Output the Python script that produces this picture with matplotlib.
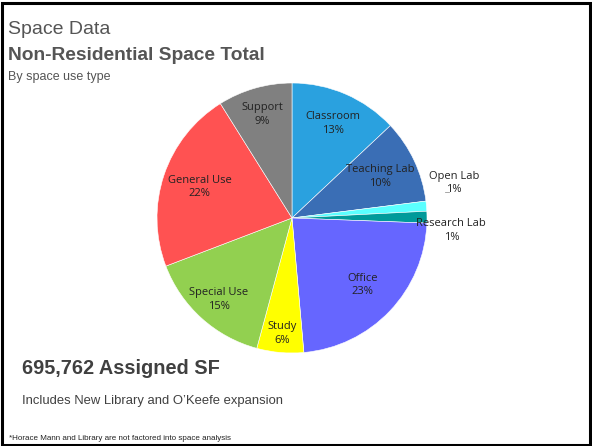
import matplotlib.pyplot as plt
import numpy as np
from matplotlib.patches import Rectangle

# data (share of assigned SF, clockwise from 12 o'clock)
categories = ["Classroom", "Teaching Lab", "Open Lab", "Research Lab", "Office",
              "Study", "Special Use", "General Use", "Support"]
shares = [13.0, 10.0, 1.2, 1.4, 23.0, 5.6, 15.0, 21.9, 8.9]
colors = ["#2AA1DF", "#3A6EB5", "#5BFFFF", "#009A9A", "#6666FF",
          "#FFFF00", "#92D050", "#FF5252", "#808080"]
label_r = [0.76, 0.72, None, None, 0.72, 0.86, 0.81, 0.72, 0.80]

total_sf = "695,762 Assigned SF"

W, H = 592, 446
fig = plt.figure(figsize=(W / 100, H / 100), dpi=100)

narrow = ["Liberation Sans Narrow", "Liberation Sans", "DejaVu Sans"]
txt = "#555555"

# =========================
# PIE
# =========================
cx, cy, rad = 292, 218, 135
ax = fig.add_axes([(cx - rad) / W, (H - cy - rad) / H, 2 * rad / W, 2 * rad / H])
wedges, _ = ax.pie(shares, colors=colors, startangle=90, counterclock=False,
                   radius=1.0, wedgeprops=dict(edgecolor="white", linewidth=0.4))
ax.set_xlim(-1, 1)
ax.set_ylim(-1, 1)
ax.axis("off")

pct = [s / sum(shares) * 100 for s in shares]
for w, name, p, r in zip(wedges, categories, pct, label_r):
    if r is None:
        continue
    ang = np.deg2rad((w.theta1 + w.theta2) / 2)
    ax.text(r * np.cos(ang), r * np.sin(ang), f"{name}\n{p:.0f}%",
            ha="center", va="center", fontsize=8, family="Open Sans",
            color="#222222", linespacing=1.35)

# small slices labelled outside
ax.text(1.20, 0.26, f"Open Lab\n{pct[2]:.0f}%", ha="center", va="center",
        fontsize=8, family="Open Sans", color="#222222", linespacing=1.35,
        clip_on=False)
ax.plot([1.13, 1.16], [0.195, 0.195], color="#999999", lw=0.6, clip_on=False)
ax.text(1.18, -0.09, f"Research Lab\n{pct[3]:.0f}%", ha="center", va="center",
        fontsize=8, family="Open Sans", color="#222222", linespacing=1.35,
        clip_on=False)

# =========================
# TEXT
# =========================
fig.text(8 / W, 1 - 30 / H, "Space Data", fontsize=14, family=narrow,
         color=txt, va="center", ha="left")
fig.text(8 / W, 1 - 55 / H, "Non-Residential Space Total", fontsize=13.8,
         family=narrow, weight="bold", color=txt, va="center", ha="left")
fig.text(8 / W, 1 - 77 / H, "By space use type", fontsize=9, family=narrow,
         color=txt, va="center", ha="left")

fig.text(22 / W, 1 - 368 / H, total_sf, fontsize=14.3, family="Liberation Sans",
         weight="bold", color="#404040", va="center", ha="left")
fig.text(22 / W, 1 - 401 / H, "Includes New Library and O\u2019Keefe expansion",
         fontsize=9.4, family="Liberation Sans", color="#404040",
         va="center", ha="left")
fig.text(9 / W, 1 - 438 / H, "*Horace Mann and Library are not factored into space analysis",
         fontsize=5.8, family="Liberation Sans", color="#222222",
         va="center", ha="left")

# frame
fig.patches.append(Rectangle((1.5 / W, 1.5 / H), 1 - 4 / W, 1 - 4 / H,
                             transform=fig.transFigure, fill=False,
                             edgecolor="black", linewidth=2.2))

fig.savefig("out.png", dpi=100)
